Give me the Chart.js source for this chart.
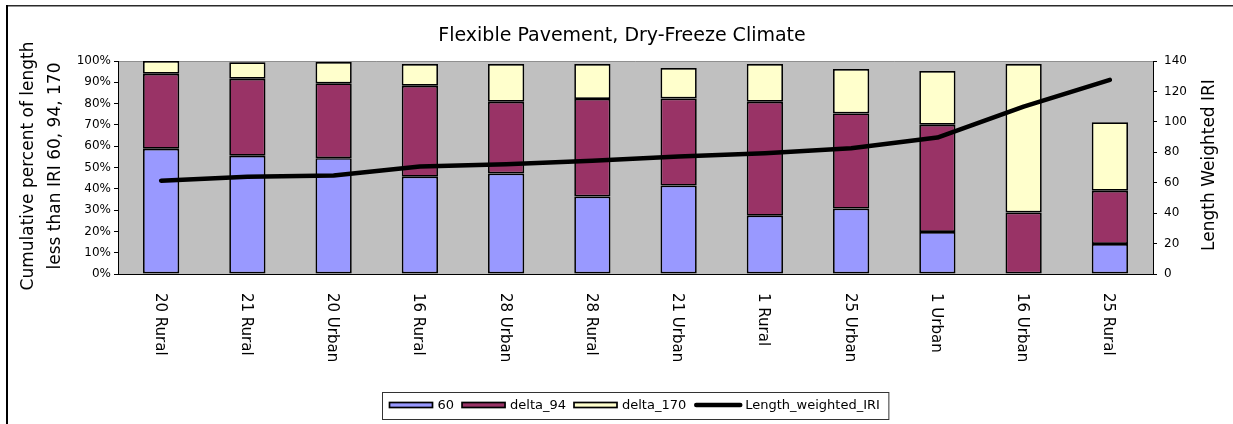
<!DOCTYPE html>
<html>
<head>
<meta charset="utf-8">
<title>Flexible Pavement, Dry-Freeze Climate</title>
<script src="https://cdn.jsdelivr.net/npm/chart.js@4/dist/chart.umd.min.js"></script>
<style>
  html, body { margin: 0; padding: 0; background: #fff; }
  canvas { display: block; }
</style>
</head>
<body>
<canvas id="chart" width="1233" height="424"></canvas>
<script>
// Section categories (district + setting)
const categories = ['20 Rural', '21 Rural', '20 Urban', '16 Rural', '28 Urban', '28 Rural',
                    '21 Urban', '1 Rural', '25 Urban', '1 Urban', '16 Urban', '25 Rural'];

// Cumulative percent of length below IRI 60, then the increments up to 94 and 170
const pct60    = [58.8, 55.5, 54.4, 45.7, 47.2, 36.4, 41.5, 27.4, 30.7, 19.7, 0.0, 14.1];
const delta94  = [35.2, 36.2, 35.1, 42.7, 33.7, 45.8, 40.9, 53.5, 44.7, 50.4, 28.9, 25.0];
const delta170 = [6.0, 7.7, 10.0, 10.2, 17.7, 16.4, 14.3, 17.7, 20.8, 25.2, 69.7, 32.1];

// Length weighted IRI (right axis)
const weightedIri = [61.3, 64.0, 64.7, 70.6, 72.2, 74.4, 77.2, 79.4, 82.7, 89.7, 110.0, 127.6];

// Axis ranges / tick steps
const pctTicks = { min: 0, max: 100, step: 10 };
const iriTicks = { min: 0, max: 140, step: 20 };

const seriesNames = ['60', 'delta_94', 'delta_170', 'Length_weighted_IRI'];
const chartTitle = 'Flexible Pavement, Dry-Freeze Climate';
const leftTitle = ['Cumulative percent of length', 'less than IRI 60, 94, 170'];
const rightTitle = 'Length Weighted IRI';

const FONT = "'DejaVu Sans', 'Liberation Sans', sans-serif";
const barColors = ['#9999ff', '#993366', '#ffffcc'];

const barCommon = {
  type: 'bar',
  yAxisID: 'y',
  stack: 'pct',
  order: 1,
  borderColor: '#000',
  borderWidth: 1.7,
  borderSkipped: false,
  categoryPercentage: 1.0,
  barPercentage: 0.42
};

// Background, frame, titles, rotated category labels and the boxed legend
const decor = {
  id: 'decor',
  beforeDraw(chart) {
    const { ctx, chartArea: a } = chart;
    ctx.save();
    ctx.fillStyle = '#fff';
    ctx.fillRect(0, 0, chart.width, chart.height);
    ctx.fillStyle = '#c0c0c0';
    ctx.fillRect(a.left, a.top, a.right - a.left, a.bottom - a.top);
    ctx.strokeStyle = '#8f8f8f';
    ctx.lineWidth = 1;
    ctx.beginPath();
    ctx.moveTo(a.left, a.top + 0.5);
    ctx.lineTo(a.right, a.top + 0.5);
    ctx.stroke();
    // outer frame (top and left edges)
    ctx.fillStyle = '#2a2a2a';
    ctx.fillRect(6, 5, chart.width - 6, 1.5);
    ctx.fillStyle = '#000';
    ctx.fillRect(6, 5, 2, chart.height - 5);
    ctx.restore();
  },
  afterDraw(chart) {
    const { ctx, chartArea: a } = chart;
    ctx.save();
    ctx.fillStyle = '#000';

    // chart title
    ctx.font = '19px ' + FONT;
    ctx.textAlign = 'center';
    ctx.textBaseline = 'alphabetic';
    ctx.fillText(chartTitle, 622, 41);

    // left axis title (two lines, reading upward)
    ctx.font = '17px ' + FONT;
    const midY = (a.top + a.bottom) / 2 - 1.5;
    leftTitle.forEach((line, i) => {
      ctx.save();
      ctx.translate(33 + i * 27, midY);
      ctx.rotate(-Math.PI / 2);
      ctx.fillText(line, 0, 0);
      ctx.restore();
    });

    // right axis title
    ctx.save();
    ctx.translate(1214, midY - 1);
    ctx.rotate(-Math.PI / 2);
    ctx.fillText(rightTitle, 0, 0);
    ctx.restore();

    // category labels, rotated clockwise
    const xs = chart.scales.x;
    ctx.font = '15px ' + FONT;
    ctx.textAlign = 'left';
    categories.forEach((lab, i) => {
      const x = xs.getPixelForValue(i);
      ctx.save();
      ctx.translate(x - 5.5, 293);
      ctx.rotate(Math.PI / 2);
      ctx.fillText(lab, 0, 0);
      ctx.restore();
    });

    // legend
    ctx.font = '13px ' + FONT;
    const padL = 7, padR = 9, sw = 43, lineSw = 48, gapText = 5, gapItem = 8;
    const widths = seriesNames.map(s => ctx.measureText(s).width);
    let total = padL + padR;
    widths.forEach((w, i) => {
      total += (i === 3 ? lineSw + 3 : sw + gapText) + w;
      if (i < 3) total += gapItem;
    });
    const boxL = Math.round((a.left + a.right) / 2 - total / 2) + 0.5;
    const boxT = 392.5, boxH = 27;
    ctx.strokeStyle = '#333';
    ctx.lineWidth = 1;
    ctx.strokeRect(boxL, boxT, total, boxH);
    const cy = boxT + boxH / 2 - 1;
    let x = boxL + padL;
    ctx.textBaseline = 'middle';
    widths.forEach((w, i) => {
      if (i < 3) {
        ctx.fillStyle = barColors[i];
        ctx.fillRect(x, cy - 2.5, sw, 5);
        ctx.strokeStyle = '#000';
        ctx.lineWidth = 1.7;
        ctx.strokeRect(x, cy - 2.5, sw, 5);
        x += sw + gapText;
      } else {
        ctx.strokeStyle = '#000';
        ctx.lineWidth = 4.5;
        ctx.lineCap = 'round';
        ctx.beginPath();
        ctx.moveTo(x + 2, cy);
        ctx.lineTo(x + lineSw - 2, cy);
        ctx.stroke();
        x += lineSw + 3;
      }
      ctx.fillStyle = '#000';
      ctx.fillText(seriesNames[i], x, cy + 1);
      x += w + gapItem;
    });
    ctx.restore();
  }
};

new Chart(document.getElementById('chart'), {
  data: {
    labels: categories,
    datasets: [
      { ...barCommon, label: seriesNames[0], data: pct60, backgroundColor: barColors[0] },
      { ...barCommon, label: seriesNames[1], data: delta94, backgroundColor: barColors[1] },
      { ...barCommon, label: seriesNames[2], data: delta170, backgroundColor: barColors[2] },
      {
        type: 'line',
        label: seriesNames[3],
        data: weightedIri,
        yAxisID: 'y2',
        order: 0,
        borderColor: '#000',
        borderWidth: 4.5,
        borderCapStyle: 'round',
        borderJoinStyle: 'round',
        pointRadius: 0,
        tension: 0,
        fill: false
      }
    ]
  },
  options: {
    responsive: false,
    animation: false,
    devicePixelRatio: 1,
    layout: { padding: { top: 61, left: 0, right: 0, bottom: 0 } },
    plugins: {
      legend: { display: false },
      title: { display: false },
      tooltip: { enabled: false }
    },
    scales: {
      x: {
        stacked: true,
        offset: true,
        grid: { display: false },
        border: { display: true, color: '#000', width: 1 },
        ticks: { display: false },
        afterFit(s) { s.height = 150; }
      },
      y: {
        position: 'left',
        stacked: true,
        min: pctTicks.min,
        max: pctTicks.max,
        ticks: {
          stepSize: pctTicks.step,
          callback: v => v + '%',
          color: '#000',
          font: { family: FONT, size: 12 },
          padding: 3
        },
        grid: { drawOnChartArea: false, color: '#000', tickLength: 4 },
        border: { color: '#000', width: 1 },
        afterFit(s) { s.width = 118; }
      },
      y2: {
        position: 'right',
        min: iriTicks.min,
        max: iriTicks.max,
        ticks: {
          stepSize: iriTicks.step,
          color: '#000',
          font: { family: FONT, size: 12 },
          padding: 7
        },
        grid: { drawOnChartArea: false, color: '#000', tickLength: 4 },
        border: { color: '#000', width: 1 },
        afterFit(s) { s.width = 80; }
      }
    }
  },
  plugins: [decor]
});
</script>
</body>
</html>
